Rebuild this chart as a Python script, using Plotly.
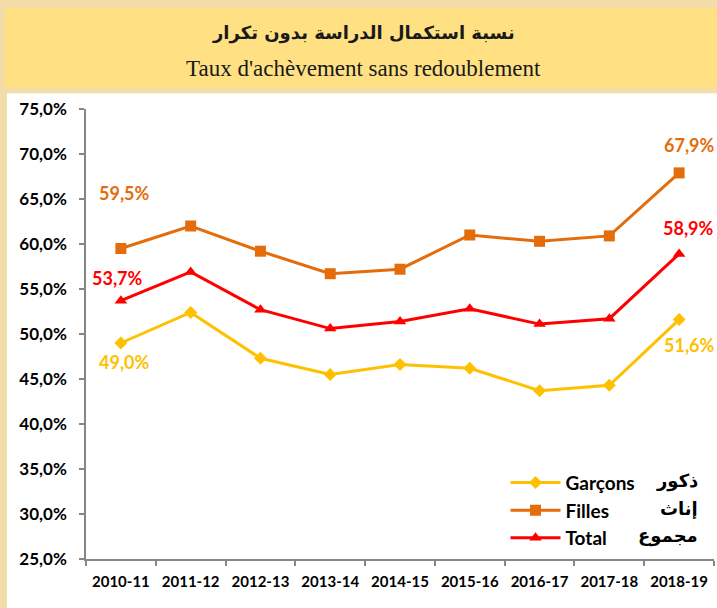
import plotly.graph_objects as go

years = ["2010-11", "2011-12", "2012-13", "2013-14", "2014-15", "2015-16", "2016-17", "2017-18", "2018-19"]
garcons = [49.0, 52.4, 47.3, 45.5, 46.6, 46.2, 43.7, 44.3, 51.6]
filles = [59.5, 62.0, 59.2, 56.7, 57.2, 61.0, 60.3, 60.9, 67.9]
total = [53.7, 56.9, 52.7, 50.6, 51.4, 52.8, 51.1, 51.7, 58.9]
y_ticks = [25, 30, 35, 40, 45, 50, 55, 60, 65, 70, 75]
y_ticktext = [f"{v:.1f}%".replace(".", ",") for v in y_ticks]

title_ar = "نسبة استكمال الدراسة بدون تكرار"
title_fr = "Taux d'achèvement sans redoublement"
names_fr = ["Garçons", "Filles", "Total"]
names_ar = ["ذكور", "إناث", "مجموع"]

C_G = "#FFC000"
C_F = "#E46C0A"
C_T = "#FF0000"
FONT = "Lato, 'Open Sans', sans-serif"

fig = go.Figure()
fig.add_trace(go.Scatter(x=years, y=garcons, name=names_fr[0], mode="lines+markers",
                         line=dict(color=C_G, width=3), marker=dict(symbol="diamond", size=10, color=C_G)))
fig.add_trace(go.Scatter(x=years, y=filles, name=names_fr[1], mode="lines+markers",
                         line=dict(color=C_F, width=3), marker=dict(symbol="square", size=11, color=C_F)))
fig.add_trace(go.Scatter(x=years, y=total, name=names_fr[2], mode="lines+markers",
                         line=dict(color=C_T, width=3), marker=dict(symbol="triangle-up", size=11, color=C_T)))

def fmt(v):
    return f"<b>{v:.1f}%</b>".replace(".", ",")

# first / last data labels
labels = [
    (years[0], filles[0], C_F, 4, 56),
    (years[-1], filles[-1], C_F, 10, 28),
    (years[0], total[0], C_T, -3, 23),
    (years[-1], total[-1], C_T, 9, 26),
    (years[0], garcons[0], C_G, 4, -19),
    (years[-1], garcons[-1], C_G, 10, -25),
]
for x, v, c, xs, ys in labels:
    fig.add_annotation(x=x, y=v, text=fmt(v), showarrow=False, xshift=xs, yshift=ys,
                       font=dict(family=FONT, size=18, color=c))

# background panels
fig.add_shape(type="rect", xref="paper", yref="paper", x0=-0.126, x1=1.01, y0=-0.2, y1=1.035,
              fillcolor="white", line=dict(width=0), layer="below")
fig.add_shape(type="rect", xref="paper", yref="paper", x0=-0.129, x1=1.01, y0=1.047, y1=1.224,
              fillcolor="#FFE183", line=dict(width=0), layer="below")

fig.add_annotation(xref="paper", yref="paper", x=0.442, y=1.168, text=f"<b>{title_ar}</b>", showarrow=False,
                   font=dict(family="DejaVu Sans", size=18, color="#1a1a1a"), xanchor="center", yanchor="middle")
fig.add_annotation(xref="paper", yref="paper", x=0.442, y=1.09, text=title_fr, showarrow=False,
                   font=dict(family="Liberation Serif", size=23, color="#1a1a1a"), xanchor="center", yanchor="middle")

# Arabic legend names
for i, t in enumerate(names_ar):
    fig.add_annotation(xref="paper", yref="paper", x=0.978, y=0.174 - i * 0.061, text=f"<b>{t}</b>", showarrow=False,
                       xanchor="right", yanchor="middle",
                       font=dict(family="DejaVu Sans", size=18, color="black"))

fig.update_layout(
    width=717, height=608,
    margin=dict(l=86, r=3, t=109, b=49, autoexpand=False),
    paper_bgcolor="#F4DCAA",
    plot_bgcolor="white",
    showlegend=True,
    legend=dict(x=0.668, y=0.212, xanchor="left", yanchor="top", bgcolor="rgba(0,0,0,0)",
                font=dict(family=FONT, size=19, color="black", weight="bold"),
                tracegroupgap=0, itemwidth=50),
    font=dict(family=FONT),
)
fig.update_xaxes(type="category", range=[-0.5, 8.5], showline=True, linecolor="#868686", linewidth=1.5,
                 ticks="outside", tickson="boundaries", ticklen=5, tickcolor="#868686", tickwidth=1.5,
                 showgrid=False, tickvals=years, ticktext=[f"<b>{y}</b>" for y in years],
                 ticklabelstandoff=8, tickangle=0, automargin=False,
                 tickfont=dict(family=FONT, size=15, color="black"))
fig.update_yaxes(range=[25, 75], tickvals=y_ticks, ticktext=[f"<b>{t}</b>" for t in y_ticktext], showline=True,
                 linecolor="#868686", linewidth=1.5, ticks="outside", ticklen=5, tickcolor="#868686", tickwidth=1.5,
                 showgrid=False, zeroline=False, ticklabelstandoff=9, automargin=False,
                 tickfont=dict(family=FONT, size=17, color="black"))

fig.write_html("out.html", config={"displayModeBar": False},
               post_script="document.body.style.margin='0';document.body.style.overflow='hidden';")
